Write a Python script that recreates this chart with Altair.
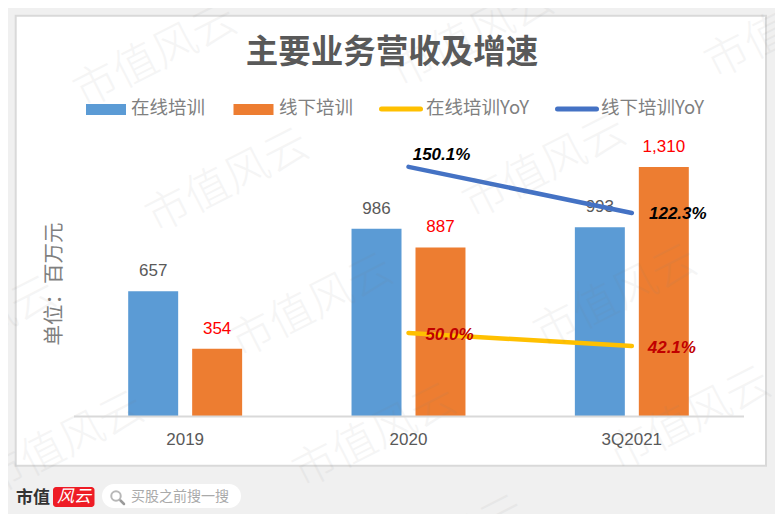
import altair as alt
import pandas as pd

periods = ["2019", "2020", "3Q2021"]
online_rev = [657, 986, 993]
offline_rev = [354, 887, 1310]
yoy_periods = ["2020", "3Q2021"]
online_yoy = [50.0, 42.1]
offline_yoy = [150.1, 122.3]

TITLE = "主要业务营收及增速"
S_ON, S_OFF = "在线培训", "线下培训"
S_ON_Y, S_OFF_Y = "在线培训YoY", "线下培训YoY"
BLUE, ORANGE, YELLOW, NAVY = "#5B9BD5", "#ED7D31", "#FFC000", "#4472C4"
GREY = "#595959"
CJK = "Noto Sans CJK SC"
LATIN = "Liberation Sans"

W, H = 670, 300
X0, Y0 = 73.5, 116   # plot origin in page pixels


def px(x):
    return x - X0


def py(y):
    return y - Y0


rev = pd.DataFrame({
    "period": periods * 2,
    "series": [S_ON] * 3 + [S_OFF] * 3,
    "value": online_rev + offline_rev,
})
yoy = pd.DataFrame({
    "period": yoy_periods * 2,
    "series": [S_ON_Y] * 2 + [S_OFF_Y] * 2,
    "value": online_yoy + offline_yoy,
})
one = pd.DataFrame({"a": [0]})

x_enc = alt.X("period:N", sort=periods, title=None,
              scale=alt.Scale(paddingInner=0, paddingOuter=0),
              axis=alt.Axis(labelAngle=0, labelFont=LATIN, labelFontSize=17, labelColor=GREY,
                            labelPadding=15, ticks=False, domainColor="#D9D9D9", domainWidth=2,
                            grid=False, zindex=1))
off_enc = alt.XOffset("series:N", sort=[S_ON, S_OFF],
                      scale=alt.Scale(paddingInner=0.21875, paddingOuter=0.855))
y_bar = alt.Y("value:Q", scale=alt.Scale(domain=[0, H / 0.19], nice=False), title=None, axis=None)
y_yoy = alt.Y("value:Q", scale=alt.Scale(domain=[0, H / 1.66], nice=False), title=None, axis=None)


def box(x1, x2, y1, y2, **kw):
    return alt.Chart(one).mark_rect(**kw).encode(
        x=alt.value(px(x1)), x2=alt.value(px(x2)), y=alt.value(py(y1)), y2=alt.value(py(y2)))


def label(txt, x, y, **kw):
    kw.setdefault("baseline", "middle")
    kw.setdefault("font", CJK)
    return alt.Chart(one).mark_text(**kw).encode(
        x=alt.value(px(x)), y=alt.value(py(y)), text=alt.value(txt))


def stroke(x1, x2, y, color, width):
    return alt.Chart(one).mark_rule(color=color, strokeWidth=width, strokeCap="round").encode(
        x=alt.value(px(x1)), x2=alt.value(px(x2)), y=alt.value(py(y)))


def watermark(x, y):
    return label("市值风云", x, y, align="center", fontSize=44, fontWeight=300,
                 angle=333, color="#7f7f7f", opacity=0.075)


panel = box(15.7, 766, 15.7, 465.7, fill="white", stroke="#D9D9D9", strokeWidth=2)
title = label(TITLE, 392, 52.5, align="center", fontSize=32.5, fontWeight="bold", color=GREY)

bars = alt.Chart(rev).mark_bar().encode(
    x=x_enc, xOffset=off_enc, y=y_bar,
    color=alt.Color("series:N", scale=alt.Scale(domain=[S_ON, S_OFF], range=[BLUE, ORANGE]), legend=None))

on_labels = alt.Chart(rev[rev.series == S_ON]).mark_text(
    font=LATIN, fontSize=17, color=GREY, dy=-20).encode(
    x=x_enc, xOffset=off_enc, y=y_bar, text=alt.Text("value:Q", format=","))
off_labels = alt.Chart(rev[rev.series == S_OFF]).mark_text(
    font=LATIN, fontSize=17, color="#FF0000", dy=-20).encode(
    x=x_enc, xOffset=off_enc, y=y_bar, text=alt.Text("value:Q", format=","))

line_on = alt.Chart(yoy[yoy.series == S_ON_Y]).mark_line(
    color=YELLOW, strokeWidth=4.5, strokeCap="round").encode(x=x_enc, y=y_yoy)
line_off = alt.Chart(yoy[yoy.series == S_OFF_Y]).mark_line(
    color=NAVY, strokeWidth=4.5, strokeCap="round").encode(x=x_enc, y=y_yoy)


def yoy_text(series, period, color, dx, dy):
    d = yoy[(yoy.series == series) & (yoy.period == period)].assign(t=lambda f: f.value.map("{:.1f}%".format))
    return alt.Chart(d).mark_text(font=LATIN, fontSize=17, fontWeight="bold", fontStyle="italic",
                                  color=color, dx=dx, dy=dy).encode(x=x_enc, y=y_yoy, text="t:N")


yoy_labels = [
    yoy_text(S_OFF_Y, "2020", "#000000", 33, -12),
    yoy_text(S_OFF_Y, "3Q2021", "#000000", 46, 1),
    yoy_text(S_ON_Y, "2020", "#C00000", 41, 2),
    yoy_text(S_ON_Y, "3Q2021", "#C00000", 40, 2),
]

legend = [
    box(86, 126, 104, 115, fill=BLUE),
    label(S_ON, 131, 108, align="left", fontSize=18.5, color="#7f7f7f"),
    box(233.5, 273.5, 104, 115, fill=ORANGE),
    label(S_OFF, 279, 108, align="left", fontSize=18.5, color="#7f7f7f"),
    stroke(381.5, 420.5, 109, YELLOW, 5),
    label(S_ON_Y, 426, 108, align="left", fontSize=18.5, color="#7f7f7f"),
    stroke(557.5, 596.5, 109, NAVY, 5),
    label(S_OFF_Y, 601, 108, align="left", fontSize=18.5, color="#7f7f7f"),
]

unit = label("单位：百万元", 55, 284, align="center", fontSize=20.5, angle=270, color="#7f7f7f")

footer = [
    label("市值", 16, 498, align="left", fontSize=17, fontWeight="bold", color="#333333"),
    box(53, 94.5, 487, 507, fill="#EE1C25", cornerRadius=3),
    label("风云", 74, 497, align="center", fontSize=17, fontStyle="italic", color="white"),
    box(102, 241, 484, 508, fill="white", cornerRadius=12),
    alt.Chart(one).mark_point(shape="circle", filled=False, size=90, color="#9a9a9a", strokeWidth=2).encode(
        x=alt.value(px(116)), y=alt.value(py(496))),
    alt.Chart(one).mark_rule(color="#9a9a9a", strokeWidth=2.5, strokeCap="round").encode(
        x=alt.value(px(120.5)), x2=alt.value(px(124)), y=alt.value(py(500.5)), y2=alt.value(py(504))),
    label("买股之前搜一搜", 131, 497, align="left", fontSize=14, color="#aaaaaa"),
]

marks = [watermark(x, y) for x, y in [
    (156, 57), (473, 37), (787, 28),
    (228, 182), (545, 168),
    (-25, 330), (312, 307), (616, 298),
    (63, 445), (375, 437), (690, 420),
    (444, 549),
]]

chart = alt.layer(
    panel, title, bars, on_labels, off_labels, line_on, line_off, *yoy_labels, *legend, unit, *footer, *marks
).resolve_scale(y="independent").properties(
    width=W, height=H,
    background="#F0F0F0",
    padding={"left": 65.5, "right": 31.5, "top": 108, "bottom": 98},
    autosize=alt.AutoSizeParams(type="none"),
).configure_view(stroke=None)

chart.save("out.html", embed_options={"renderer": "svg", "actions": False})
